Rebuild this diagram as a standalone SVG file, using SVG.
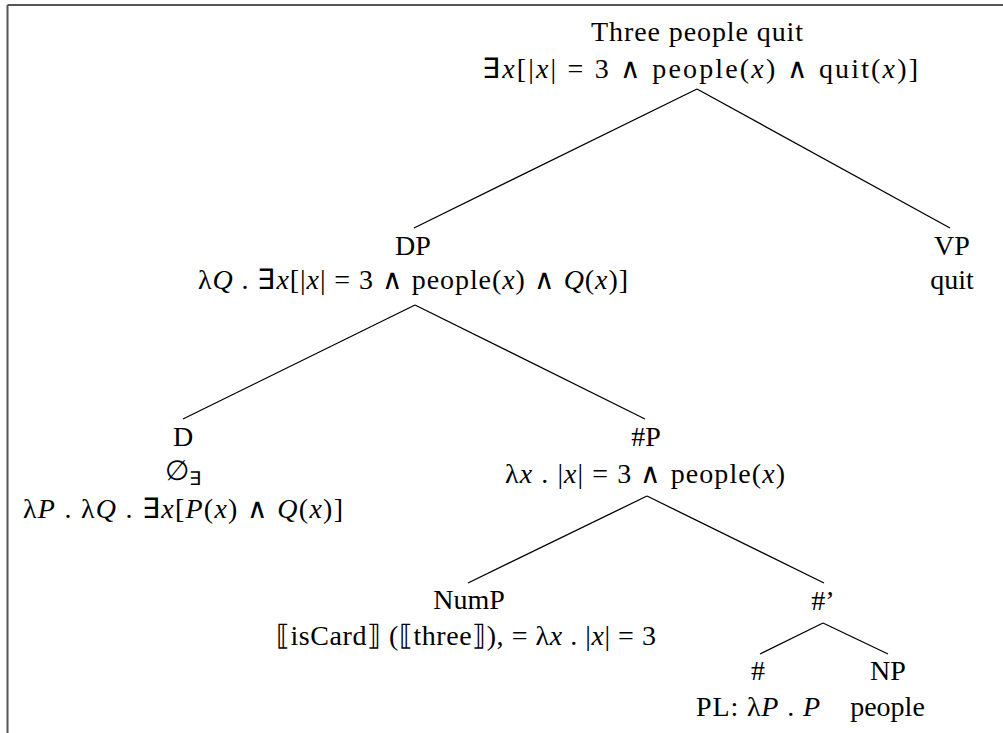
<svg xmlns="http://www.w3.org/2000/svg" width="1003" height="733" viewBox="0 0 1003 733">
<style>
text{font-family:"Liberation Serif","Times New Roman",serif;font-size:28px;fill:#000;text-anchor:middle}
.i{font-style:italic}
.sm{font-size:19px}
line{stroke:#000;stroke-width:1.3}
.frame{stroke:#555;stroke-width:2}
</style>
<rect width="1003" height="733" fill="#fff"/>
<line class="frame" x1="7.5" y1="5" x2="1003" y2="5"/>
<line class="frame" x1="7.5" y1="5" x2="7.5" y2="733"/>
<g id="connectors">
<line x1="697" y1="89" x2="414" y2="228"/>
<line x1="697" y1="89" x2="950" y2="228"/>
<line x1="415" y1="305" x2="183" y2="419"/>
<line x1="415" y1="305" x2="645" y2="419"/>
<line x1="647" y1="496" x2="468" y2="583"/>
<line x1="647" y1="496" x2="824" y2="583"/>
<line x1="823" y1="623" x2="760" y2="654"/>
<line x1="823" y1="623" x2="888" y2="654"/>
</g>
<g id="root">
<text x="697" y="41" textLength="212" lengthAdjust="spacing">Three people quit</text>
<text x="700" y="78" textLength="436" lengthAdjust="spacing">∃<tspan class="i">x</tspan>[|<tspan class="i">x</tspan>| = 3 ∧ people(<tspan class="i">x</tspan>) ∧ quit(<tspan class="i">x</tspan>)]</text>
</g>
<g id="DP">
<text x="413" y="255">DP</text>
<text x="413" y="289" textLength="430" lengthAdjust="spacing">λ<tspan class="i">Q</tspan> . ∃<tspan class="i">x</tspan>[|<tspan class="i">x</tspan>| = 3 ∧ people(<tspan class="i">x</tspan>) ∧ <tspan class="i">Q</tspan>(<tspan class="i">x</tspan>)]</text>
</g>
<g id="VP">
<text x="952" y="255">VP</text>
<text x="952" y="289">quit</text>
</g>
<g id="D">
<text x="183" y="446">D</text>
<text x="183" y="480">∅<tspan class="sm" dy="5">∃</tspan></text>
<text x="183" y="518" textLength="320" lengthAdjust="spacing">λ<tspan class="i">P</tspan> . λ<tspan class="i">Q</tspan> . ∃<tspan class="i">x</tspan>[<tspan class="i">P</tspan>(<tspan class="i">x</tspan>) ∧ <tspan class="i">Q</tspan>(<tspan class="i">x</tspan>)]</text>
</g>
<g id="NumberP">
<text x="646" y="446">#P</text>
<text x="645" y="483" textLength="280" lengthAdjust="spacing">λ<tspan class="i">x</tspan> . |<tspan class="i">x</tspan>| = 3 ∧ people(<tspan class="i">x</tspan>)</text>
</g>
<g id="NumP">
<text x="469" y="609">NumP</text>
<text x="466" y="645" textLength="380" lengthAdjust="spacing">⟦isCard⟧ (⟦three⟧), = λ<tspan class="i">x</tspan> . |<tspan class="i">x</tspan>| = 3</text>
</g>
<g id="NumberBar">
<text x="823" y="610">#’</text>
</g>
<g id="Number">
<text x="758" y="680">#</text>
<text x="758" y="716" textLength="124" lengthAdjust="spacing">PL: λ<tspan class="i">P</tspan> . <tspan class="i">P</tspan></text>
</g>
<g id="NP">
<text x="888" y="680">NP</text>
<text x="887.5" y="716">people</text>
</g>
</svg>
